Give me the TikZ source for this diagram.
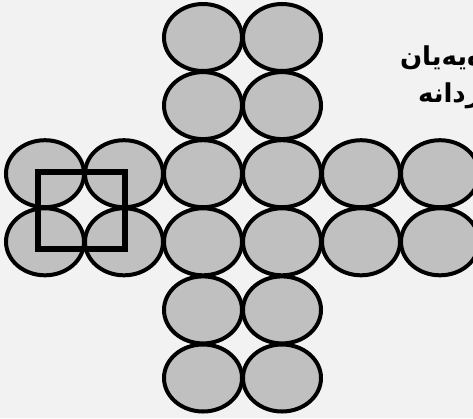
\documentclass[tikz,border=0pt]{standalone}
\usepackage{fontspec}
\newfontfamily\kurdfont[Script=Arabic,BoldFont={DejaVu Sans Bold}]{DejaVu Sans}
\TeXXeTstate=1
\usetikzlibrary{shapes.geometric}
\definecolor{paper}{HTML}{F2F2F2}
\definecolor{ballgray}{HTML}{C0C0C0}

\begin{document}
\begin{tikzpicture}[x=1pt,y=-1pt,every node/.style={inner sep=0pt,outer sep=0pt},
    ball/.style={ellipse,draw,line width=4pt,fill=ballgray,minimum width=78pt,minimum height=67pt},
    frame/.style={rectangle,draw,line width=6pt,minimum width=87pt,minimum height=77pt},
    caption/.style={font=\kurdfont\bfseries\fontsize{26}{32}\selectfont,anchor=base west}]
        % background
        \useasboundingbox (0,0) rectangle (473,418);
        \fill[paper] (0,0) rectangle (473,418);
        % cross of discs: columns 3,4 always, rows 3,4 full
        \foreach \y in {1,...,6} {
            \foreach \x in {1,...,6} {
                \ifnum\y=3
                    \node[ball] (cell-\x-\y) at (\x*79-34,\y*68.1-30.6) {};
                \else
                    \ifnum\y=4
                        \node[ball] (cell-\x-\y) at (\x*79-34,\y*68.1-30.6) {};
                    \else
                        \ifnum\x=3
                            \node[ball] (cell-\x-\y) at (\x*79-34,\y*68.1-30.6) {};
                        \fi
                        \ifnum\x=4
                            \node[ball] (cell-\x-\y) at (\x*79-34,\y*68.1-30.6) {};
                        \fi
                    \fi
                \fi
            }
        }
        % marker over the four left discs
        \node[frame] (marker) at (81.5,210.5) {};
        % text
        \node[caption] (line-a) at (400,65) {\beginR ەیەیان\endR};
        \node[caption] (line-b) at (418,102) {\beginR ردانە\endR};
    \end{tikzpicture}
\end{document}
